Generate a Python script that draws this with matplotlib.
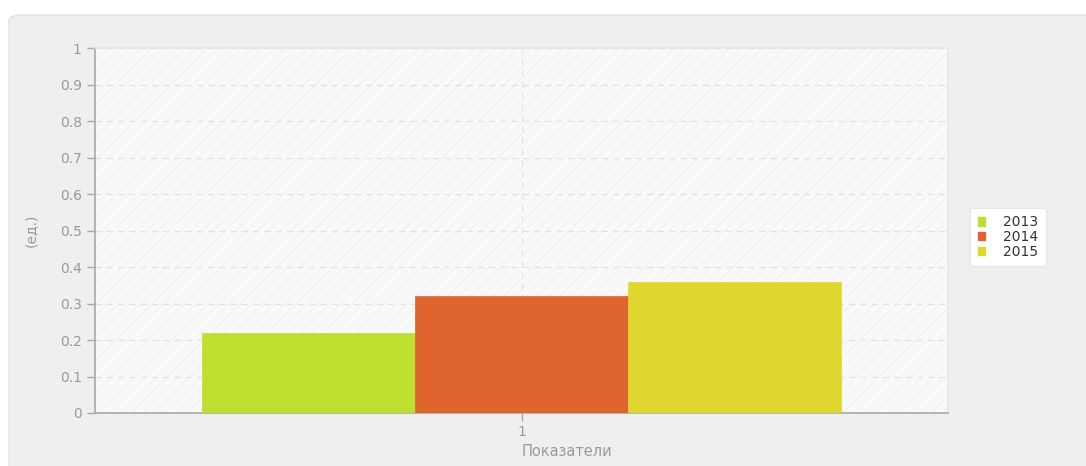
import numpy as np
import matplotlib.pyplot as plt
from matplotlib.patches import FancyBboxPatch, Rectangle, Patch

categories = [1]
years = ['2013', '2014', '2015']
values = [0.22, 0.32, 0.36]
colors = ['#bde02f', '#e0642e', '#dfd62e']
yticks = [0, 0.1, 0.2, 0.3, 0.4, 0.5, 0.6, 0.7, 0.8, 0.9, 1]

plt.rcParams['hatch.linewidth'] = 0.6
fig = plt.figure(figsize=(10.86, 4.66), dpi=100, facecolor='white')

# grey rounded panel behind the chart
panel = FancyBboxPatch((9 / 1086, -0.05), 1.1, 1 - 15 / 466 + 0.05,
                       boxstyle='round,pad=0,rounding_size=0.012',
                       transform=fig.transFigure, facecolor='#efefef',
                       edgecolor='#e3e3e3', linewidth=1, zorder=-10)
fig.patches.append(panel)

ax = fig.add_axes([95 / 1086, 1 - 413 / 466, 853 / 1086, 365 / 466])
ax.set_facecolor('#f9f9f9')
ax.add_patch(Rectangle((0, 0), 1, 1, transform=ax.transAxes, facecolor='none',
                       edgecolor='#efefef', hatch='///', linewidth=0, zorder=0))

index = np.arange(len(categories)) + 1
bar_width = 0.25
for i, (year, val, col) in enumerate(zip(years, values, colors)):
    ax.bar(index + (i - 1) * bar_width, [val], bar_width, color=col,
           edgecolor=col, linewidth=0.5, label=year, zorder=3)

ax.set_xlim(0.5, 1.5)
ax.set_ylim(0, 1)
ax.set_yticks(yticks)
ax.set_yticklabels(['0' if t == 0 else ('1' if t == 1 else f'{t:g}') for t in yticks])
ax.set_xticks(index)
ax.set_xticklabels([str(c) for c in categories])

ax.grid(True, color='#e2e2e2', linestyle=(0, (5, 4)), linewidth=0.9, zorder=1)
ax.set_axisbelow(True)

for side in ['top', 'right']:
    ax.spines[side].set_color('#e6e6e6')
    ax.spines[side].set_linewidth(1.2)
for side in ['left', 'bottom']:
    ax.spines[side].set_color('#a8a8a8')
    ax.spines[side].set_linewidth(1.2)

ax.tick_params(axis='both', colors='#a8a8a8', labelcolor='#999999',
               labelsize=10, length=6, width=1, direction='out')
ax.tick_params(axis='x', pad=3)

ax.set_ylabel('(ед.)', color='#999999', fontsize=10, labelpad=16)
ax.text(1.0, -0.085, 'Показатели', transform=ax.get_xaxis_transform(),
        ha='left', va='top', color='#999999', fontsize=10.5)

handles = [Patch(facecolor=c, edgecolor=c, label=y) for c, y in zip(colors, years)]
leg = fig.legend(handles=handles, loc='center', bbox_to_anchor=(1008 / 1086, 1 - 237 / 466),
                 fontsize=10, frameon=True, fancybox=True, handlelength=0.55,
                 handleheight=0.55, handletextpad=1.3, labelspacing=0.05,
                 borderpad=0.55, borderaxespad=0)
leg.get_frame().set_facecolor('white')
leg.get_frame().set_edgecolor('#e6e6e6')
leg.get_frame().set_linewidth(0.8)
leg.get_frame().set_alpha(1)
for t in leg.get_texts():
    t.set_color('#333333')

plt.savefig('out.png', dpi=100, facecolor=fig.get_facecolor())
